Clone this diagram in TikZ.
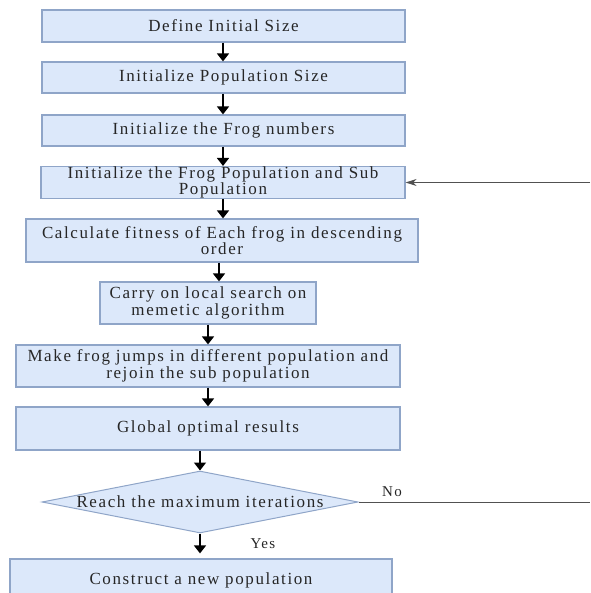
\documentclass[tikz,border=0pt]{standalone}
\usepackage{fontspec}
\setmainfont[LetterSpace=9.5]{Liberation Serif}
\usetikzlibrary{arrows.meta,shapes.geometric}
\definecolor{boxfill}{HTML}{DCE8FA}
\definecolor{boxline}{HTML}{8FA5C8}
\definecolor{ink}{HTML}{262626}
\tikzset{
  x=1pt, y=-1pt,
  stepbox/.style={draw=boxline, fill=boxfill, line width=1.2pt, inner sep=0pt,
    align=center, text=ink, font=\fontsize{17}{15}\selectfont},
  decide/.style={draw=boxline, fill=boxfill, line width=1pt, diamond, aspect=5.1,
    inner sep=0pt, align=center, text=ink, font=\fontsize{17}{15}\selectfont},
  flow/.style={line width=1.6pt, -{Triangle[width=12pt,length=8pt]}},
  back/.style={line width=0.9pt, draw=ink!80, -{Stealth[width=7pt,length=11pt]}},
  tag/.style={text=ink, font=\fontsize{15}{15}\selectfont},
}
\begin{document}
\begin{tikzpicture}
\useasboundingbox (0,0) rectangle (590,593);

% process steps
\node[stepbox, minimum width=363pt, minimum height=32pt] (b1) at (223.5,26) {Define Initial Size};
\node[stepbox, minimum width=363pt, minimum height=31pt] (b2) at (223.5,77.5) {Initialize Population Size};
\node[stepbox, minimum width=363pt, minimum height=31pt] (b3) at (223.5,130.5) {Initialize the Frog numbers};
\node[stepbox, minimum width=364pt, minimum height=31pt] (b4) at (223,182.5) {Initialize the Frog Population and Sub\\Population};
\node[stepbox, minimum width=392pt, minimum height=43pt] (b5) at (222,240.5) {Calculate fitness of Each frog in descending\\order};
\node[stepbox, minimum width=216pt, minimum height=42pt] (b6) at (208,303) {Carry on local search on\\memetic algorithm};
\node[stepbox, minimum width=384pt, minimum height=42pt] (b7) at (208,366) {Make frog jumps in different population and\\rejoin the sub population};
\node[stepbox, minimum width=384pt, minimum height=43pt] (b8) at (208,428.5) {Global optimal results};
\node[decide, minimum width=316pt, minimum height=62pt] (d1) at (200,502) {Reach the maximum iterations};
\node[stepbox, minimum width=382pt, minimum height=42pt] (b9) at (201,580) {Construct a new population};

% columns of the downward arrows
\coordinate (c223) at (223,0);
\coordinate (c219) at (219,0);
\coordinate (c208) at (208,0);
\coordinate (c200) at (200,0);

\draw[flow] (b1.south -| c223) -- (b2.north -| c223);
\draw[flow] (b2.south -| c223) -- (b3.north -| c223);
\draw[flow] (b3.south -| c223) -- (b4.north -| c223);
\draw[flow] (b4.south -| c223) -- (b5.north -| c223);
\draw[flow] (b5.south -| c219) -- (b6.north -| c219);
\draw[flow] (b6.south -| c208) -- (b7.north -| c208);
\draw[flow] (b7.south -| c208) -- (b8.north -| c208);
\draw[flow] (b8.south -| c200) -- (d1.north);
\draw[flow, shorten >=5pt] (d1.south) -- (b9.north -| c200);

% loop back to the population step
\coordinate (noend) at (590,502);
\coordinate (backstart) at (590,182.5);
\draw[line width=0.9pt, ink!80] (d1.east) -- (noend);
\draw[back] (backstart) -- (b4.east);

\node[tag] (no) at (392,492) {No};
\node[tag] (yes) at (263,544) {Yes};
\end{tikzpicture}
\end{document}
